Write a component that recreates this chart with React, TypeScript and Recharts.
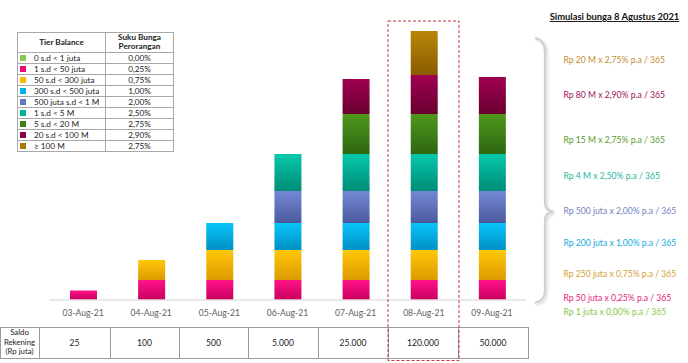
import React from 'react';
import { BarChart, Bar, XAxis, YAxis } from 'recharts';

// ---------- data ----------
const categories = ['03-Aug-21', '04-Aug-21', '05-Aug-21', '06-Aug-21', '07-Aug-21', '08-Aug-21', '09-Aug-21'];
// illustrative segment heights (chart units)
const tier0 = [0, 0, 0, 0, 0, 0, 0];
const tier1 = [9.5, 20, 20, 20, 20, 20, 20];
const tier2 = [0, 20, 30, 30, 30, 30, 30];
const tier3 = [0, 0, 27, 27, 27, 27, 27];
const tier4 = [0, 0, 0, 32, 32, 32, 32];
const tier5 = [0, 0, 0, 37, 37, 37, 37];
const tier6 = [0, 0, 0, 0, 40, 40, 40];
const tier7 = [0, 0, 0, 0, 35, 39, 37];
const tier8 = [0, 0, 0, 0, 0, 44, 0];
const saldo = ['25', '100', '500', '5.000', '25.000', '120.000', '50.000'];

const tierLabels = ['0 s.d < 1 juta', '1 s.d < 50 juta', '50 s.d < 300 juta', '300 s.d < 500 juta', '500 juta s.d < 1 M', '1 s.d < 5 M', '5 s.d < 20 M', '20 s.d < 100 M', '≥ 100 M'];
const tierRates = ['0,00%', '0,25%', '0,75%', '1,00%', '2,00%', '2,50%', '2,75%', '2,90%', '2,75%'];

const simTitle = 'Simulasi bunga 8 Agustus 2021';
// top to bottom
const simLines = [
  'Rp 20 M x 2,75% p.a / 365',
  'Rp 80 M x 2,90% p.a / 365',
  'Rp 15 M x 2,75% p.a / 365',
  'Rp 4 M x 2,50% p.a / 365',
  'Rp 500 juta x 2,00% p.a / 365',
  'Rp 200 juta x 1,00% p.a / 365',
  'Rp 250 juta x 0,75% p.a / 365',
  'Rp 50 juta x 0,25% p.a / 365',
  'Rp 1 juta x 0,00% p.a / 365',
];

// ---------- styles ----------
const FONT = 'Lato, "Open Sans", sans-serif';
const keys = ['t0', 't1', 't2', 't3', 't4', 't5', 't6', 't7', 't8'];
const gradTop = ['#98d858', '#ff1288', '#ffc808', '#08c4fa', '#7488d6', '#06c8ac', '#4f981c', '#a00050', '#b8860a'];
const gradBottom = ['#7cc040', '#c8005e', '#dc9a00', '#0090c4', '#4a5a9c', '#008c78', '#2e6612', '#680030', '#8a5c00'];
const swatch = ['#86cc48', '#ec0a78', '#f8b800', '#00b0ea', '#6478c0', '#00b49a', '#3e8018', '#880040', '#a87808'];
const simColors = ['#c48c30', '#a0105c', '#5a9a2c', '#2ab4a0', '#7282c2', '#12a8e0', '#d4a032', '#e6207c', '#80c844'];
const simY = [60, 94.5, 139.5, 176, 211, 243, 274, 297.5, 311.5];

const series = [tier0, tier1, tier2, tier3, tier4, tier5, tier6, tier7, tier8];
const data = categories.map((c, i) => {
  const row: Record<string, string | number> = { name: c };
  keys.forEach((k, s) => { row[k] = series[s][i]; });
  return row;
});

const tableCols = [39, 110, 179, 248, 318, 388, 458, 528];

function LegendTable() {
  const rowH = 11.1;
  return (
    <div style={{ position: 'absolute', left: 17, top: 32, width: 157, fontFamily: FONT, fontSize: 8.2, color: '#222' }}>
      <div style={{ display: 'flex', height: 20.5, border: '1px solid #a8a8a8', boxSizing: 'border-box' }}>
        <div style={{ width: 87, borderRight: '1px solid #a8a8a8', display: 'flex', alignItems: 'center', justifyContent: 'center', fontWeight: 700 }}>Tier Balance</div>
        <div style={{ flex: 1, display: 'flex', alignItems: 'center', justifyContent: 'center', textAlign: 'center', fontWeight: 700, lineHeight: '9.5px' }}>Suku Bunga<br />Perorangan</div>
      </div>
      {tierLabels.map((t, i) => (
        <div key={t} style={{ display: 'flex', height: rowH, borderLeft: '1px solid #a8a8a8', borderRight: '1px solid #a8a8a8', borderBottom: '1px solid #a8a8a8', boxSizing: 'border-box', whiteSpace: 'nowrap' }}>
          <div style={{ width: 87, borderRight: '1px solid #a8a8a8', display: 'flex', alignItems: 'center', position: 'relative' }}>
            <div style={{ width: 6, height: 6, flex: 'none', background: swatch[i], marginLeft: 2, marginRight: 8 }} />
            <span>{t}</span>
          </div>
          <div style={{ flex: 1, display: 'flex', alignItems: 'center', justifyContent: 'center' }}>{tierRates[i]}</div>
        </div>
      ))}
    </div>
  );
}

function SaldoTable() {
  const top = 326.5;
  const h = 32;
  const edges = [0, ...tableCols];
  return (
    <div style={{ position: 'absolute', left: 0, top, width: 529, height: h, fontFamily: FONT, fontSize: 7.8, color: '#222' }}>
      <div style={{ position: 'absolute', left: 0, top: 0, width: 529, height: h, borderTop: '1px solid #9a9a9a', borderBottom: '1px solid #9a9a9a', boxSizing: 'border-box' }} />
      {edges.map((x) => (
        <div key={x} style={{ position: 'absolute', left: x, top: 0, width: 1, height: h, background: '#9a9a9a' }} />
      ))}
      <div style={{ position: 'absolute', left: 0, top: 0, width: 39, height: h, display: 'flex', alignItems: 'center', justifyContent: 'center', textAlign: 'center', lineHeight: '9.8px' }}>
        Saldo<br />Rekening<br />(Rp juta)
      </div>
      {saldo.map((s, i) => (
        <div key={s} style={{ position: 'absolute', left: edges[i + 1], top: 0, width: edges[i + 2] - edges[i + 1], height: h, display: 'flex', alignItems: 'center', justifyContent: 'center', fontSize: 8.6 }}>
          {s}
        </div>
      ))}
    </div>
  );
}

function Overlay() {
  return (
    <svg width={688} height={363} style={{ position: 'absolute', left: 0, top: 0, pointerEvents: 'none' }}>
      <defs>
        <filter id="bshadow" x="-50%" y="-10%" width="200%" height="120%">
          <feDropShadow dx="1.5" dy="1.5" stdDeviation="1.2" floodColor="#000" floodOpacity="0.18" />
        </filter>
      </defs>
      {/* brace */}
      <path
        d="M 535 38 Q 545 40 545 52 L 545 203 Q 545 210 553 211.5 Q 545 213 545 220 L 545 290 Q 545 301 535 303"
        fill="none" stroke="#d0d0d0" strokeWidth={2.2} filter="url(#bshadow)"
      />
      {/* highlight box */}
      <rect x={388} y={21} width={71} height={339.5} fill="none" stroke="#c0393b" strokeWidth={1} strokeDasharray="3 2" />
      <text x={614.5} y={20} textAnchor="middle" fontFamily={FONT} fontSize={9.4} fontWeight={700} fill="#111" textDecoration="underline">
        {simTitle}
      </text>
      {simLines.map((t, i) => (
        <text key={t} x={563.5} y={simY[i]} dy="0.35em" fontFamily={FONT} fontSize={8.6} fill={simColors[i]}>
          {t}
        </text>
      ))}
    </svg>
  );
}

export default function App() {
  return (
    <div style={{ position: 'absolute', left: 0, top: 0, width: 688, height: 363, background: '#fff', overflow: 'hidden' }}>
      <BarChart width={688} height={363} data={data} margin={{ top: 30, right: 162, left: 49, bottom: 33 }} barSize={27}>
        <defs>
          {keys.map((k, i) => (
            <linearGradient key={k} id={`g_${k}`} x1="0" y1="0" x2="0" y2="1">
              <stop offset="0%" stopColor={gradTop[i]} />
              <stop offset="100%" stopColor={gradBottom[i]} />
            </linearGradient>
          ))}
        </defs>
        <XAxis
          dataKey="name"
          height={30}
          tickLine={false}
          axisLine={{ stroke: '#e2e2e2', strokeWidth: 1.5 }}
          tick={{ fontSize: 8.6, fill: '#606060', fontFamily: FONT }}
          tickMargin={4}
          interval={0}
        />
        <YAxis hide domain={[0, 270]} allowDataOverflow />
        {keys.map((k) => (
          <Bar key={k} dataKey={k} stackId="a" fill={`url(#g_${k})`} isAnimationActive={false} />
        ))}
      </BarChart>
      <LegendTable />
      <SaldoTable />
      <Overlay />
    </div>
  );
}
